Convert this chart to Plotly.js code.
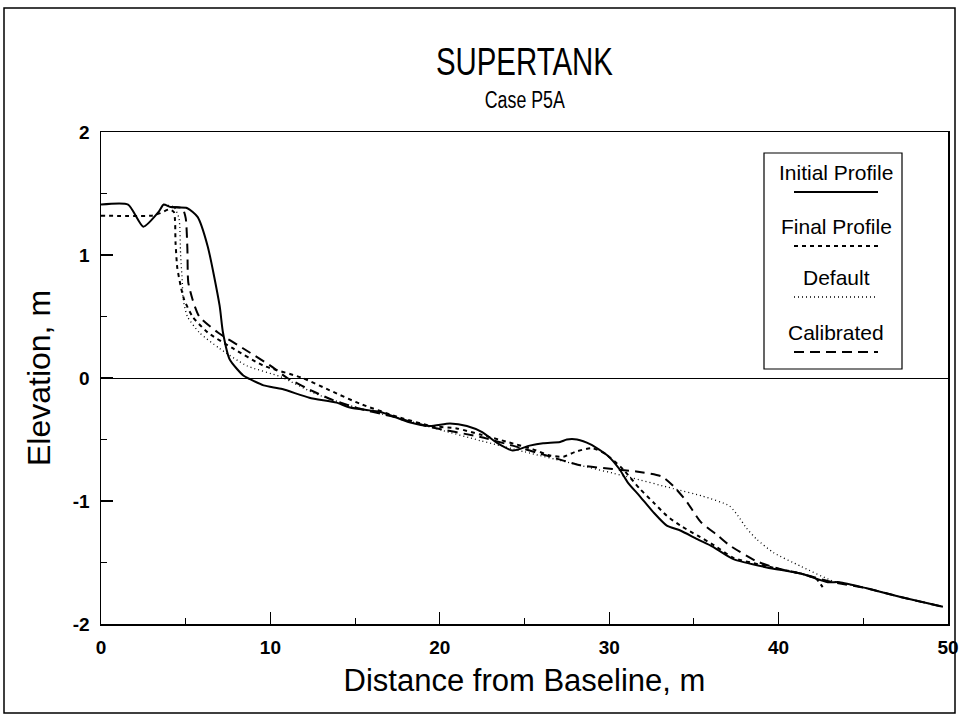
<!DOCTYPE html>
<html>
<head>
<meta charset="utf-8">
<script src="https://cdn.plot.ly/plotly-3.0.1.min.js"></script>
<style>html,body{margin:0;padding:0;background:#fff;}#chart{width:960px;height:722px;}</style>
</head>
<body>
<div id="chart"></div>
<script>
// ---- data ----
var seriesNames = ["Initial Profile", "Final Profile", "Default", "Calibrated"];

var initialX = [0,1.6,2.5,3.4,3.7,4.1,5.1,5.7,6.3,7.0,7.2,7.6,8.4,8.8,9.6,10.7,12.3,13.9,14.7,16.6,18.2,19.4,20.6,21.6,22.5,23.4,24.3,25.3,26.1,27.1,27.5,28.1,28.9,29.9,30.6,31.1,31.8,32.6,33.4,34.2,35.2,36.1,37.3,39.3,41.3,42.9,43.6,45.2,47.2,49.7];
var initialY = [1.41,1.41,1.23,1.35,1.41,1.39,1.38,1.31,1.07,0.59,0.37,0.15,0.02,-0.01,-0.06,-0.09,-0.16,-0.2,-0.24,-0.28,-0.36,-0.39,-0.37,-0.39,-0.44,-0.53,-0.59,-0.55,-0.53,-0.52,-0.5,-0.5,-0.54,-0.63,-0.74,-0.85,-0.96,-1.09,-1.2,-1.24,-1.31,-1.37,-1.47,-1.54,-1.59,-1.66,-1.66,-1.71,-1.78,-1.86];

var finalX = [0,3.0,3.5,4.0,4.3,4.4,4.5,4.7,4.9,5.4,6.3,7.8,9.6,11.9,13.5,15.3,17.6,19.5,21.0,22.4,24.0,25.5,26.5,27.3,28.0,29.0,29.8,30.8,31.8,32.6,33.4,34.2,35.2,36.2,37.3,39.3,41.3,42.2,42.6];
var finalY = [1.32,1.32,1.34,1.37,1.35,1.1,0.9,0.75,0.64,0.5,0.37,0.24,0.1,0.0,-0.1,-0.21,-0.32,-0.39,-0.41,-0.46,-0.52,-0.58,-0.63,-0.64,-0.6,-0.57,-0.62,-0.74,-0.9,-1.01,-1.12,-1.2,-1.28,-1.36,-1.46,-1.53,-1.59,-1.63,-1.7];

var defaultX = [3.7,4.3,4.6,4.7,4.8,4.85,5.1,5.8,7.0,8.6,10.6,12.7,15.3,17.1,20,22.4,25,28,31,33.8,35.5,37.1,37.6,38.1,38.7,39.7,41.3,43.2,45.2,47.2,49.7];
var defaultY = [1.41,1.39,1.3,1.0,0.78,0.64,0.5,0.37,0.24,0.1,0.01,-0.13,-0.25,-0.31,-0.42,-0.51,-0.6,-0.7,-0.8,-0.9,-0.96,-1.04,-1.12,-1.22,-1.31,-1.42,-1.53,-1.65,-1.71,-1.78,-1.86];

var calibX = [4.1,4.8,5.0,5.1,5.15,5.4,5.8,6.9,8.4,10.0,11.0,12.7,13.7,15.3,17.1,19.5,22.4,24.3,26.3,28.3,30.2,31.6,33.1,33.8,34.6,35.4,36.4,37.1,38.7,40,41.3,43.2,45.2,47.2,49.7];
var calibY = [1.39,1.38,1.3,1.05,0.78,0.64,0.5,0.37,0.24,0.1,0.0,-0.12,-0.18,-0.25,-0.31,-0.4,-0.48,-0.55,-0.63,-0.71,-0.74,-0.76,-0.8,-0.88,-1.01,-1.17,-1.28,-1.36,-1.49,-1.55,-1.59,-1.66,-1.71,-1.78,-1.86];

var xTickVals = [0,10,20,30,40,50];
var yTickVals = [-2,-1,0,1,2];
var titleText = "SUPERTANK";
var subtitleText = "Case P5A";
var xTitle = "Distance from Baseline, m";
var yTitle = "Elevation, m";

// ---- layout helpers (pixel -> paper) ----
var M = {l:101, r:12, t:132, b:98};
var W = 960, H = 722;
var PW = W - M.l - M.r, PH = H - M.t - M.b;
function px(x){ return (x - M.l) / PW; }
function py(y){ return (H - M.b - y) / PH; }

var styles = [
  {dash:"solid", width:2},
  {dash:"4px,4px", width:2},
  {dash:"1px,3px", width:1.3},
  {dash:"10px,6px", width:2}
];
var xs = [initialX, finalX, defaultX, calibX];
var ys = [initialY, finalY, defaultY, calibY];

var traces = seriesNames.map(function(n,i){
  return {x: xs[i], y: ys[i], name: n, mode: "lines", type: "scatter",
          line: {color: "#000", dash: styles[i].dash, width: styles[i].width, shape: "spline", smoothing: 0.6},
          showlegend: false, hoverinfo: "skip"};
});

var fontMain = "Liberation Sans, Arial, Helvetica, sans-serif";
var shapes = [
  {type:"rect", xref:"paper", yref:"paper", x0:px(4), x1:px(955), y0:py(713), y1:py(8), line:{color:"#000", width:1.5}},
  {type:"rect", xref:"paper", yref:"paper", x0:px(764), x1:px(902), y0:py(369), y1:py(153), line:{color:"#000", width:1.2}, fillcolor:"#fff"}
];
var annotations = [
  {text:titleText, xref:"paper", yref:"paper", x:0.5, y:py(62), xanchor:"center", yanchor:"middle", showarrow:false,
   font:{family:fontMain, size:38, color:"#000"}},
  {text:subtitleText, xref:"paper", yref:"paper", x:0.5, y:py(100), xanchor:"center", yanchor:"middle", showarrow:false,
   font:{family:fontMain, size:23, color:"#000"}}
];
var legTextY = [172, 226, 277, 332];
var legLineY = [192, 246, 297, 352];
seriesNames.forEach(function(n,i){
  annotations.push({text:n, xref:"paper", yref:"paper", x:px(836), y:py(legTextY[i]), xanchor:"center", yanchor:"middle",
    showarrow:false, font:{family:fontMain, size:21, color:"#000"}});
  shapes.push({type:"line", xref:"paper", yref:"paper", x0:px(794), x1:px(878), y0:py(legLineY[i]), y1:py(legLineY[i]),
    line:{color:"#000", width:styles[i].width, dash:styles[i].dash}});
});

var layout = {
  width: W, height: H,
  margin: M,
  paper_bgcolor: "#fff", plot_bgcolor: "#fff",
  showlegend: false,
  font: {family: fontMain, color: "#000"},
  xaxis: {
    range: [0, 50], tickvals: xTickVals, ticktext: xTickVals.map(String),
    ticks: "inside", ticklen: 12, tickwidth: 1.2, tickcolor: "#000",
    minor: {dtick: 5, tick0: 0, ticks: "inside", ticklen: 6, tickwidth: 1, tickcolor: "#000"},
    showline: true, mirror: true, linecolor: "#000", linewidth: 1.5,
    showgrid: false, zeroline: false,
    tickfont: {family: fontMain, size: 19, weight: "bold", color: "#000"},
    ticklabelstandoff: 6,
    title: {text: xTitle, font: {family: fontMain, size: 31, color: "#000"}, standoff: 12}
  },
  yaxis: {
    range: [-2, 2], tickvals: yTickVals, ticktext: yTickVals.map(String),
    ticks: "inside", ticklen: 12, tickwidth: 1.2, tickcolor: "#000",
    minor: {dtick: 0.5, tick0: 0, ticks: "inside", ticklen: 6, tickwidth: 1, tickcolor: "#000"},
    showline: true, mirror: true, linecolor: "#000", linewidth: 1.5,
    showgrid: false, zeroline: true, zerolinecolor: "#000", zerolinewidth: 1,
    tickfont: {family: fontMain, size: 19, weight: "bold", color: "#000"},
    ticklabelstandoff: 6,
    title: {text: yTitle, font: {family: fontMain, size: 32, color: "#000"}, standoff: 12}
  },
  shapes: shapes,
  annotations: annotations
};

Plotly.newPlot("chart", traces, layout, {staticPlot: true, displayModeBar: false}).then(function(){
  // condense the two title lines to the narrow face of the original
  var t = document.querySelectorAll(".annotation-text");
  var lens = [177, 80];
  for (var i = 0; i < 2 && i < t.length; i++) {
    t[i].setAttribute("textLength", lens[i]);
    t[i].setAttribute("lengthAdjust", "spacingAndGlyphs");
  }
});
</script>
</body>
</html>
